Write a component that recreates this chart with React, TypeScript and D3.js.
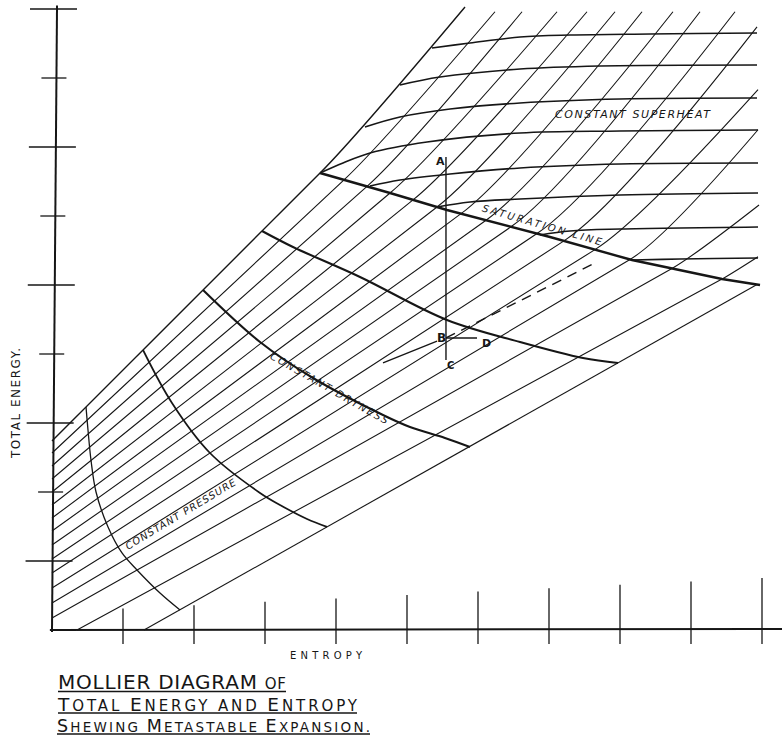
import React from "react";
import * as d3 from "d3";

const W = 782;
const H = 735;

// ---- axes ----
const entropyTicks = [1, 2, 3, 4, 5, 6, 7, 8, 9, 10];
const energyTicks = [1, 2, 3, 4, 5, 6, 7, 8, 9];
const majorEnergyTicks = [1, 3, 5, 7, 9];

// ---- constant pressure lines (isobars) ----
const isobarStartEntropy = [0, 0, 0, 0, 0, 0, 0, 0, 0, 0, 0, 0, 0, 0, 0.352, 1.296];
const isobarStartEnergy = [2.739, 2.565, 2.377, 2.188, 2.0, 1.812, 1.623, 1.435, 1.232, 1.029, 0.826, 0.609, 0.391, 0.174, 0, 0];
const isobarSatEntropy = [3.775, 4.113, 4.437, 4.761, 5.085, 5.423, 5.761, 6.113, 6.465, 6.831, 7.211, 7.648, 8.141, 8.732, 9.437, 9.93];
const isobarEndEntropy = [5.817, 6.239, 6.62, 7.113, 7.535, 7.93, 8.31, 8.746, 9.127, 9.62, 9.93, 9.944, 9.944, 9.958, 9.944, 9.93];
const isobarEndEnergy = [9.03, 8.96, 8.96, 8.96, 8.96, 8.96, 8.96, 8.96, 8.96, 8.96, 8.74, 7.83, 7.25, 6.16, 5.41, 5.0];

// ---- saturation line ----
const satEntropy = [3.775, 4.761, 5.563, 7.014, 8.169, 9.437, 9.972];
const satEnergy = [6.623, 6.333, 6.087, 5.696, 5.362, 5.087, 5.0];

// ---- constant dryness lines ----
const dry1Entropy = [0.479, 0.507, 0.549, 0.62, 0.789, 0.986, 1.197, 1.521, 1.803];
const dry1Energy = [3.232, 2.899, 2.464, 2.0, 1.493, 1.116, 0.87, 0.536, 0.29];
const dry2Entropy = [1.282, 1.69, 2.225, 2.93, 3.211, 3.592, 3.873];
const dry2Energy = [4.058, 3.29, 2.565, 1.986, 1.812, 1.609, 1.494];
const dry3Entropy = [2.127, 2.93, 3.676, 4.662, 5.042, 5.535, 5.887];
const dry3Energy = [4.928, 4.174, 3.652, 3.116, 2.942, 2.783, 2.652];
const dry4Entropy = [2.958, 3.394, 4.338, 5.563, 6.592, 7.479, 7.972];
const dry4Energy = [5.783, 5.551, 5.116, 4.493, 4.174, 3.942, 3.87];

// ---- constant superheat lines ----
const sh1Entropy = [5.352, 5.887, 6.592, 7.296, 8.423, 9.93];
const sh1Energy = [8.435, 8.507, 8.594, 8.623, 8.638, 8.652];
const sh2Entropy = [4.901, 5.465, 6.592, 7.718, 9.93];
const sh2Energy = [7.899, 8.014, 8.13, 8.174, 8.188];
const sh3Entropy = [4.408, 4.901, 5.606, 6.592, 8.0, 9.93];
const sh3Energy = [7.29, 7.435, 7.551, 7.638, 7.696, 7.71];
const sh4Entropy = [3.775, 4.099, 4.479, 5.282, 6.592, 8.0, 9.944];
const sh4Energy = [6.623, 6.768, 6.913, 7.072, 7.203, 7.232, 7.246];
const sh5Entropy = [4.479, 4.901, 5.606, 6.592, 8.0, 9.944];
const sh5Energy = [6.435, 6.522, 6.609, 6.696, 6.754, 6.768];
const sh6Entropy = [5.423, 5.887, 6.592, 8.0, 9.944];
const sh6Energy = [6.13, 6.203, 6.246, 6.304, 6.333];
const sh7Entropy = [6.873, 7.296, 8.0, 9.944];
const sh7Energy = [5.725, 5.783, 5.812, 5.841];
const sh8Entropy = [8.169, 8.845, 9.944];
const sh8Energy = [5.362, 5.377, 5.391];

// ---- metastable expansion construction ----
const pointA = [5.549, 6.855];
const pointB = [5.549, 4.232];
const pointC = [5.549, 3.913];
const pointD = [5.986, 4.232];
const approachStart = [4.662, 3.87];
const approachEnd = [5.423, 4.188];
const dashedEnd = [7.676, 5.333];

const zip = (a: number[], b: number[]) => a.map((v, i) => [v, b[i]] as [number, number]);

const INK = "#161616";
const FONT = "'DejaVu Sans', 'Liberation Sans', sans-serif";

export default function App() {
  const x = d3.scaleLinear().domain([0, 10]).range([52, 762]);
  const y = d3.scaleLinear().domain([0, 9]).range([630, 9]);
  const satAt = d3.scaleLinear().domain(satEntropy).range(satEnergy);
  const smooth = d3
    .line<[number, number]>()
    .x((d) => x(d[0]))
    .y((d) => y(d[1]))
    .curve(d3.curveCatmullRom.alpha(0.5));
  const poly = d3
    .line<[number, number]>()
    .x((d) => x(d[0]))
    .y((d) => y(d[1]));

  const isobarPaths = isobarStartEntropy.map((s0, i) => {
    const p0 = [x(s0), y(isobarStartEnergy[i])];
    const ss = isobarSatEntropy[i];
    const p1 = [x(ss), y(satAt(ss))];
    const p2 = [x(isobarEndEntropy[i]), y(isobarEndEnergy[i])];
    const p = d3.path();
    p.moveTo(p0[0], p0[1]);
    p.lineTo(p1[0], p1[1]);
    const chord = Math.hypot(p2[0] - p1[0], p2[1] - p1[1]);
    if (chord > 4) {
      const dx = p1[0] - p0[0];
      const dy = p1[1] - p0[1];
      const len = Math.hypot(dx, dy);
      const k = (0.22 * chord) / len;
      p.quadraticCurveTo(p1[0] + dx * k, p1[1] + dy * k, p2[0], p2[1]);
    }
    return p.toString();
  });

  const dryness = [
    { d: zip(dry1Entropy, dry1Energy), w: 1.3 },
    { d: zip(dry2Entropy, dry2Energy), w: 1.7 },
    { d: zip(dry3Entropy, dry3Energy), w: 2.1 },
    { d: zip(dry4Entropy, dry4Energy), w: 2.1 },
  ];
  const superheat = [
    zip(sh1Entropy, sh1Energy),
    zip(sh2Entropy, sh2Energy),
    zip(sh3Entropy, sh3Energy),
    zip(sh4Entropy, sh4Energy),
    zip(sh5Entropy, sh5Energy),
    zip(sh6Entropy, sh6Energy),
    zip(sh7Entropy, sh7Energy),
    zip(sh8Entropy, sh8Energy),
  ];

  const axisLean = 5 / 9; // hand-drawn axis leans right towards the top
  const axisX = (h: number) => x(0) + axisLean * h;

  const labelAngle = (a: number[], b: number[]) =>
    (Math.atan2(y(b[1]) - y(a[1]), x(b[0]) - x(a[0])) * 180) / Math.PI;

  // label anchors along curves
  const pressA = [1.07, 1.16];
  const pressB = [2.62, 2.12];
  const dryA = [3.06, 3.94];
  const dryB = [4.73, 2.96];
  const satA = [6.05, 6.07];
  const satB = [7.77, 5.56];

  return (
    <svg width={W} height={H} style={{ display: "block", position: "absolute", left: 0, top: 0, background: "#fff" }}>
      <rect x={0} y={0} width={W} height={H} fill="#fff" />

      {/* axes */}
      <line x1={axisX(-0.03)} y1={y(-0.03)} x2={axisX(9.05)} y2={y(9.05)} stroke={INK} strokeWidth={2} />
      <line x1={x(-0.03)} y1={y(0)} x2={W} y2={y(0) - 1} stroke={INK} strokeWidth={2} />
      {energyTicks.map((h) => {
        const major = majorEnergyTicks.includes(h);
        return (
          <line
            key={"yt" + h}
            x1={axisX(h) - (major ? 27 : 15)}
            x2={axisX(h) + (major ? 20 : 10)}
            y1={y(h)}
            y2={y(h)}
            stroke={INK}
            strokeWidth={1.3}
          />
        );
      })}
      {entropyTicks.map((s, i) => (
        <line
          key={"xt" + s}
          x1={x(s)}
          x2={x(s)}
          y1={y(0) - (18 + 3.4 * (i + 1))}
          y2={y(0) + 14}
          stroke={INK}
          strokeWidth={1.3}
        />
      ))}

      {/* isobars */}
      {isobarPaths.map((d, i) => (
        <path key={"iso" + i} d={d} fill="none" stroke={INK} strokeWidth={i === 0 ? 1.4 : 1.1} />
      ))}

      {/* constant superheat */}
      {superheat.map((pts, i) => (
        <path key={"sh" + i} d={smooth(pts) || ""} fill="none" stroke={INK} strokeWidth={1.6} />
      ))}

      {/* saturation line */}
      <path d={poly(zip(satEntropy, satEnergy)) || ""} fill="none" stroke={INK} strokeWidth={2.4} />

      {/* constant dryness */}
      {dryness.map((c, i) => (
        <path key={"dry" + i} d={smooth(c.d) || ""} fill="none" stroke={INK} strokeWidth={c.w} />
      ))}

      {/* metastable expansion construction */}
      <line x1={x(pointA[0])} y1={y(pointA[1])} x2={x(pointC[0])} y2={y(pointC[1])} stroke={INK} strokeWidth={1.4} />
      <line x1={x(pointB[0])} y1={y(pointB[1])} x2={x(pointD[0])} y2={y(pointD[1])} stroke={INK} strokeWidth={1.4} />
      <line
        x1={x(approachStart[0])}
        y1={y(approachStart[1])}
        x2={x(approachEnd[0])}
        y2={y(approachEnd[1])}
        stroke={INK}
        strokeWidth={1.3}
      />
      <line
        x1={x(pointB[0])}
        y1={y(pointB[1])}
        x2={x(dashedEnd[0])}
        y2={y(dashedEnd[1])}
        stroke={INK}
        strokeWidth={1.4}
        strokeDasharray="10,7"
      />
      <g fontFamily={FONT} fill={INK} fontWeight="bold">
        <text x={x(pointA[0]) - 10} y={y(pointA[1]) + 8} fontSize={11}>A</text>
        <text x={x(pointB[0]) - 9} y={y(pointB[1]) + 4} fontSize={12}>B</text>
        <text x={x(pointC[0]) + 1} y={y(pointC[1]) + 9} fontSize={10}>C</text>
        <text x={x(pointD[0]) + 5} y={y(pointD[1]) + 9} fontSize={11}>D</text>
      </g>

      {/* curve labels */}
      <g fontFamily={FONT} fill={INK} fontStyle="italic" fontSize={10}>
        <text
          transform={`translate(${x(pressA[0])},${y(pressA[1])}) rotate(${labelAngle(pressA, pressB)})`}
          textLength={127}
          lengthAdjust="spacing"
        >
          CONSTANT PRESSURE
        </text>
        <text
          transform={`translate(${x(dryA[0])},${y(dryA[1])}) rotate(${labelAngle(dryA, dryB)})`}
          textLength={134}
          lengthAdjust="spacing"
        >
          CONSTANT DRYNESS
        </text>
        <text
          transform={`translate(${x(satA[0])},${y(satA[1])}) rotate(${labelAngle(satA, satB)})`}
          textLength={124}
          lengthAdjust="spacing"
        >
          SATURATION LINE
        </text>
        <text x={x(7.085)} y={y(7.42)} fontSize={11} textLength={155} lengthAdjust="spacing">
          CONSTANT SUPERHEAT
        </text>
      </g>

      {/* axis titles */}
      <g fontFamily={FONT} fill={INK}>
        <text transform="translate(20,458) rotate(-90)" fontSize={12} textLength={110} lengthAdjust="spacing">
          TOTAL ENERGY.
        </text>
        <text x={290} y={659} fontSize={10} textLength={72} lengthAdjust="spacing">
          ENTROPY
        </text>
      </g>

      {/* title */}
      <g fontFamily={FONT} fill={INK}>
        <text x={58} y={689} fontSize={20} textLength={228} lengthAdjust="spacing">
          MOLLIER DIAGRAM <tspan fontSize={15}>OF</tspan>
        </text>
        <text x={58} y={711} fontSize={15} textLength={299} lengthAdjust="spacing">
          <tspan fontSize={18.5}>T</tspan>OTAL <tspan fontSize={18.5}>E</tspan>NERGY AND <tspan fontSize={18.5}>E</tspan>NTROPY
        </text>
        <text x={57} y={732} fontSize={13.5} textLength={313} lengthAdjust="spacing">
          <tspan fontSize={17.5}>S</tspan>HEWING <tspan fontSize={17.5}>M</tspan>ETASTABLE <tspan fontSize={17.5}>E</tspan>XPANSION.
        </text>
      </g>
      <g stroke={INK} strokeWidth={1.3}>
        <line x1={58} x2={286} y1={691.5} y2={691.5} />
        <line x1={58} x2={357} y1={713} y2={713} />
        <line x1={57} x2={370} y1={734} y2={734} />
      </g>
    </svg>
  );
}
